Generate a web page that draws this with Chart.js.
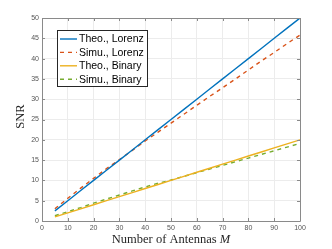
<!DOCTYPE html>
<html>
<head>
<meta charset="utf-8">
<style>
  html, body { margin: 0; padding: 0; background: #fff; }
  #wrap { width: 332px; height: 249px; }
</style>
<script src="https://cdn.jsdelivr.net/npm/chart.js@4/dist/chart.umd.min.js"></script>
</head>
<body>
<div id="wrap"><canvas id="snr" width="332" height="249"></canvas></div>
<script>
const antennas = [5, 10, 15, 20, 25, 30, 35, 40, 45, 50, 55, 60, 65, 70, 75, 80, 85, 90, 95, 100]
const theoLorenz = [2.5, 5, 7.5, 10, 12.5, 15, 17.5, 20, 22.5, 25, 27.5, 30, 32.5, 35, 37.5, 40, 42.5, 45, 47.5, 50]
const simuLorenz = [3.0, 5.6, 8.1, 10.5, 12.9, 15.1, 17.4, 19.7, 21.9, 24.1, 26.3, 28.5, 30.7, 32.8, 35.0, 37.2, 39.4, 41.5, 43.7, 45.8]
const theoBinary = [1, 2, 3, 4, 5, 6, 7, 8, 9, 10, 11, 12, 13, 14, 15, 16, 17, 18, 19, 20]
const simuBinary = [1.3, 2.3, 3.3, 4.4, 5.4, 6.4, 7.4, 8.4, 9.3, 10.1, 11.0, 11.9, 12.8, 13.7, 14.6, 15.5, 16.4, 17.3, 18.2, 19.1]

const xTicks = [0, 10, 20, 30, 40, 50, 60, 70, 80, 90, 100]
const yTicks = [0, 5, 10, 15, 20, 25, 30, 35, 40, 45, 50]

const seriesNames = ["Theo., Lorenz", "Simu., Lorenz", "Theo., Binary", "Simu., Binary"]
const seriesColors = ["#0072BD", "#D95319", "#EDB120", "#77AC30"]

function pts(ys) {
  return antennas.map((m, i) => ({ x: m, y: ys[i] }))
}

function makeSet(idx, ys, dashed) {
  return {
    label: seriesNames[idx],
    data: pts(ys),
    borderColor: seriesColors[idx],
    backgroundColor: seriesColors[idx],
    borderWidth: 1.4,
    borderDash: dashed ? [4, 4] : [],
    pointRadius: 0,
    tension: 0
  }
}

// box, inward ticks, axis titles and the inside legend
const decorations = {
  id: "decorations",
  afterDraw(chart) {
    const ctx = chart.ctx
    const a = chart.chartArea
    const xs = chart.scales.x
    const ys = chart.scales.y
    ctx.save()

    ctx.strokeStyle = "#8a8a8a"
    ctx.lineWidth = 1
    ctx.beginPath()
    ctx.rect(Math.round(a.left) + 0.5, Math.round(a.top) + 0.5, Math.round(a.right - a.left), Math.round(a.bottom - a.top))
    ctx.stroke()

    ctx.beginPath()
    xTicks.forEach(v => {
      const px = Math.round(xs.getPixelForValue(v)) + 0.5
      ctx.moveTo(px, a.bottom); ctx.lineTo(px, a.bottom - 3)
      ctx.moveTo(px, a.top); ctx.lineTo(px, a.top + 3)
    })
    yTicks.forEach(v => {
      const py = Math.round(ys.getPixelForValue(v)) + 0.5
      ctx.moveTo(a.left, py); ctx.lineTo(a.left + 3, py)
      ctx.moveTo(a.right, py); ctx.lineTo(a.right - 3, py)
    })
    ctx.stroke()

    // axis titles
    ctx.fillStyle = "#262626"
    ctx.textBaseline = "middle"
    const t1 = "Number of Antennas "
    ctx.font = "12.5px 'Liberation Serif', serif"
    const w1 = ctx.measureText(t1).width
    ctx.font = "italic 12.5px 'Liberation Serif', serif"
    const w2 = ctx.measureText("M").width
    const cx = (a.left + a.right) / 2
    let sx = cx - (w1 + w2) / 2
    ctx.textAlign = "left"
    ctx.font = "12.5px 'Liberation Serif', serif"
    ctx.fillText(t1, sx, 239.5)
    ctx.font = "italic 12.5px 'Liberation Serif', serif"
    ctx.fillText("M", sx + w1, 239.5)

    ctx.save()
    ctx.translate(21, (a.top + a.bottom) / 2 - 3)
    ctx.rotate(-Math.PI / 2)
    ctx.textAlign = "center"
    ctx.font = "12.5px 'Liberation Serif', serif"
    ctx.fillText("SNR", 0, 0)
    ctx.restore()

    // legend box
    const lx = 57.5, ly = 30.5, lw = 90, lh = 56
    ctx.fillStyle = "#fff"
    ctx.fillRect(lx, ly, lw, lh)
    ctx.strokeStyle = "#262626"
    ctx.lineWidth = 1
    ctx.strokeRect(lx, ly, lw, lh)
    ctx.font = "10.5px 'Liberation Sans', Arial, sans-serif"
    ctx.textAlign = "left"
    ctx.textBaseline = "middle"
    chart.data.datasets.forEach((ds, i) => {
      const y = 39 + i * 13.4
      ctx.strokeStyle = ds.borderColor
      ctx.lineWidth = 1.4
      ctx.setLineDash(ds.borderDash)
      ctx.beginPath()
      ctx.moveTo(60, y); ctx.lineTo(77, y)
      ctx.stroke()
      ctx.setLineDash([])
      ctx.fillStyle = "#000"
      ctx.fillText(ds.label, 79, y + 0.5)
    })
    ctx.restore()
  }
}

const config = {
  type: "line",
  data: {
    datasets: [
      makeSet(0, theoLorenz, false),
      makeSet(1, simuLorenz, true),
      makeSet(2, theoBinary, false),
      makeSet(3, simuBinary, true)
    ]
  },
  options: {
    responsive: false,
    animation: false,
    layout: { padding: { left: 0, top: 18, right: 32, bottom: 0 } },
    plugins: { legend: { display: false }, tooltip: { enabled: false } },
    scales: {
      x: {
        type: "linear",
        min: 0,
        max: 100,
        afterBuildTicks: s => { s.ticks = xTicks.map(v => ({ value: v })) },
        afterFit: s => { s.height = 28 },
        ticks: { color: "#555", font: { size: 7, family: "'Liberation Sans', Arial" }, padding: 3, maxRotation: 0 },
        grid: { color: "#ececec", drawTicks: false },
        border: { display: false }
      },
      y: {
        type: "linear",
        min: 0,
        max: 50,
        afterBuildTicks: s => { s.ticks = yTicks.map(v => ({ value: v })) },
        afterFit: s => { s.width = 42 },
        ticks: { color: "#555", font: { size: 7, family: "'Liberation Sans', Arial" }, padding: 3 },
        grid: { color: "#ececec", drawTicks: false },
        border: { display: false }
      }
    }
  },
  plugins: [decorations]
}

const snrChart = new Chart(document.getElementById("snr"), config)
</script>
</body>
</html>
